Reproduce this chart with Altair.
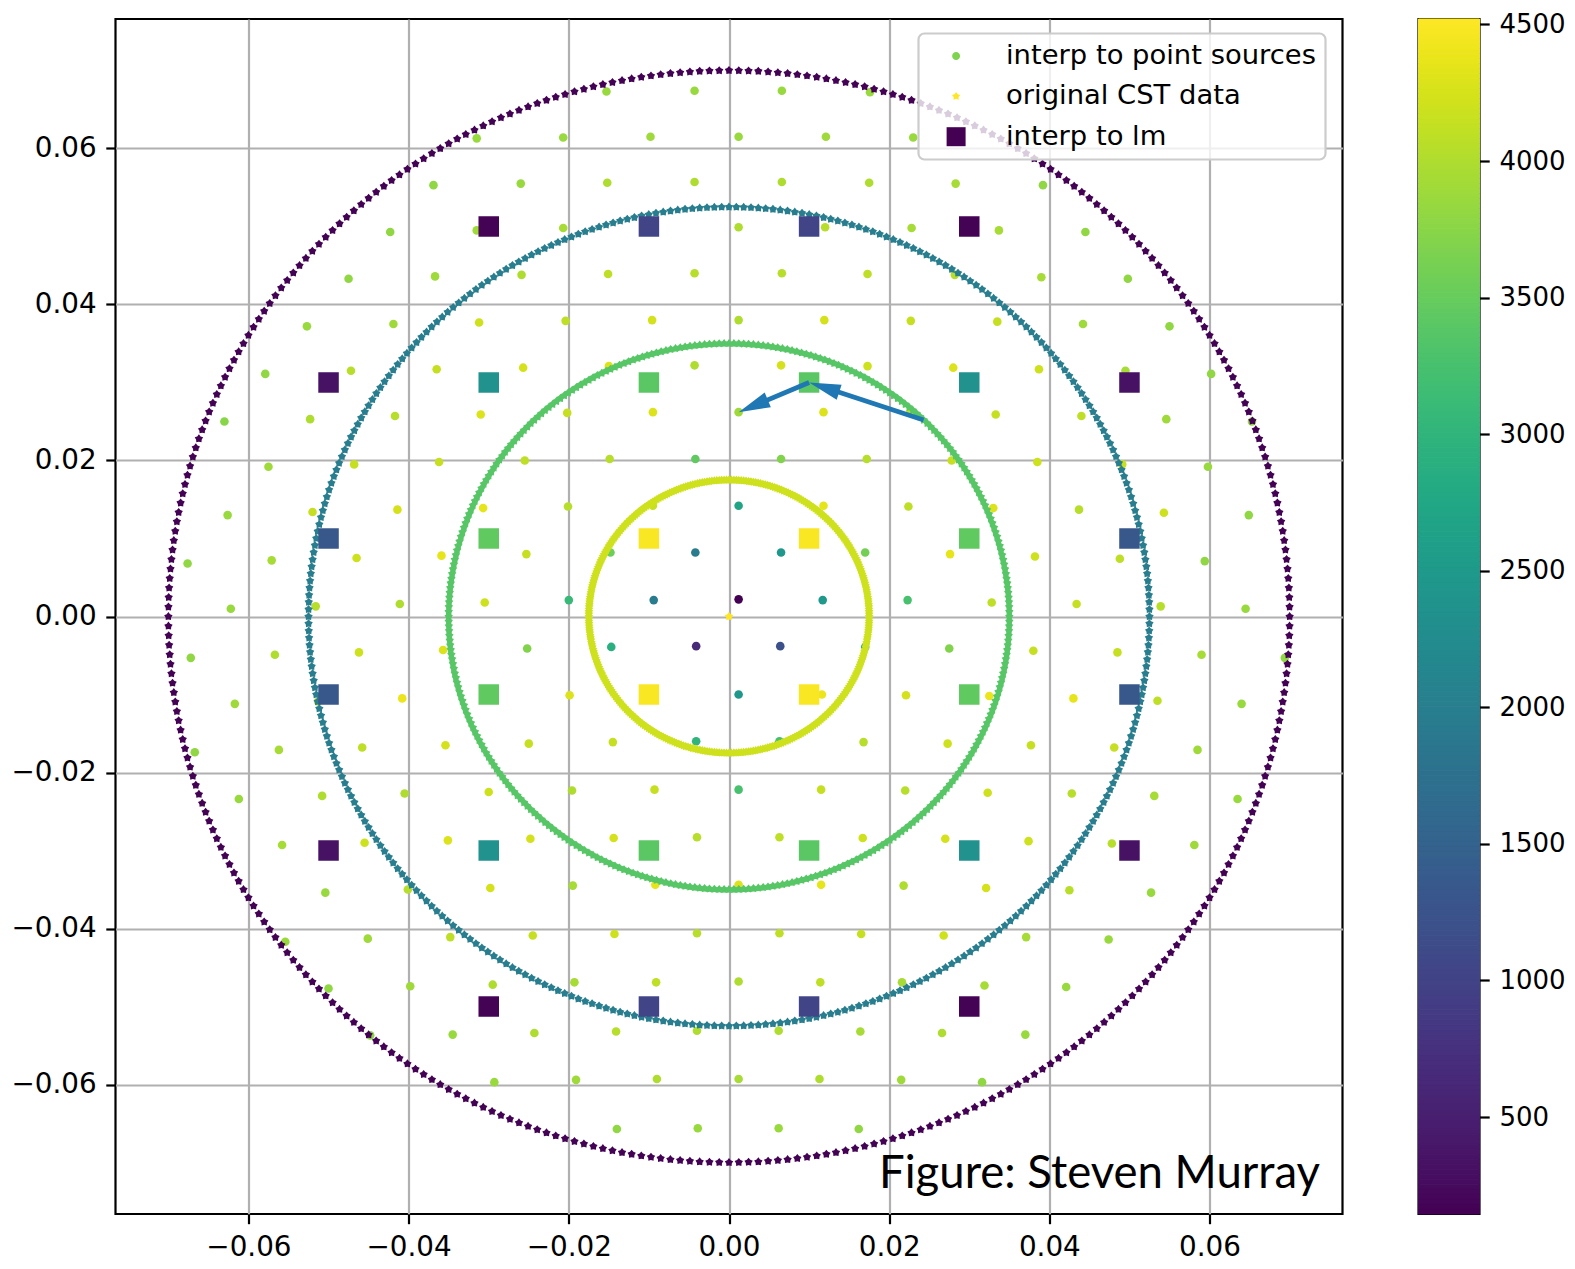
import math
import numpy as np
import pandas as pd
import altair as alt

# ---------------- data ----------------
# interp to point sources: x, y (direction cosines) and value, one line per row
PS_X = [
    -0.0153, -0.0043, 0.0066, 0.0176,
    -0.0315, -0.0207, -0.0098, 0.0012, 0.0121, 0.0230,
    -0.0369, -0.0260, -0.0152, -0.0043, 0.0066, 0.0175, 0.0283, 0.0392,
    -0.0423, -0.0315, -0.0207, -0.0098, 0.0012, 0.0120, 0.0228, 0.0337, 0.0445,
    -0.0475, -0.0367, -0.0259, -0.0151, -0.0043, 0.0066, 0.0173, 0.0282, 0.0390, 0.0498,
    -0.0527, -0.0419, -0.0312, -0.0204, -0.0096, 0.0012, 0.0119, 0.0227, 0.0335, 0.0442, 0.0550,
    -0.0579, -0.0472, -0.0365, -0.0257, -0.0150, -0.0043, 0.0065, 0.0173, 0.0280, 0.0387, 0.0495, 0.0602,
    -0.0630, -0.0523, -0.0417, -0.0310, -0.0202, -0.0095, 0.0012, 0.0118, 0.0226, 0.0333, 0.0440, 0.0546, 0.0653,
    -0.0575, -0.0468, -0.0362, -0.0255, -0.0149, -0.0042, 0.0065, 0.0172, 0.0278, 0.0385, 0.0491, 0.0598,
    -0.0626, -0.0520, -0.0414, -0.0307, -0.0201, -0.0095, 0.0012, 0.0118, 0.0224, 0.0330, 0.0437, 0.0543, 0.0649,
    -0.0676, -0.0571, -0.0465, -0.0359, -0.0253, -0.0148, -0.0042, 0.0065, 0.0170, 0.0276, 0.0382, 0.0488, 0.0594,
    -0.0622, -0.0516, -0.0411, -0.0305, -0.0200, -0.0094, 0.0012, 0.0117, 0.0223, 0.0328, 0.0434, 0.0539, 0.0645,
    -0.0672, -0.0567, -0.0462, -0.0357, -0.0252, -0.0147, -0.0041, 0.0064, 0.0170, 0.0275, 0.0380, 0.0485, 0.0590, 0.0694,
    -0.0617, -0.0513, -0.0408, -0.0304, -0.0199, -0.0093, 0.0012, 0.0116, 0.0221, 0.0325, 0.0430, 0.0535, 0.0640,
    -0.0667, -0.0562, -0.0458, -0.0354, -0.0250, -0.0145, -0.0041, 0.0063, 0.0168, 0.0273, 0.0377, 0.0481, 0.0585,
    -0.0612, -0.0508, -0.0405, -0.0300, -0.0196, -0.0093, 0.0012, 0.0115, 0.0220, 0.0323, 0.0428, 0.0531, 0.0635,
    -0.0558, -0.0455, -0.0351, -0.0248, -0.0144, -0.0040, 0.0063, 0.0167, 0.0270, 0.0374, 0.0478, 0.0581,
    -0.0504, -0.0401, -0.0298, -0.0195, -0.0092, 0.0012, 0.0115, 0.0218, 0.0321, 0.0425, 0.0527,
    -0.0554, -0.0451, -0.0348, -0.0245, -0.0143, -0.0040, 0.0063, 0.0165, 0.0268, 0.0371, 0.0474,
    -0.0500, -0.0398, -0.0295, -0.0193, -0.0091, 0.0012, 0.0114, 0.0216, 0.0319, 0.0421,
    -0.0448, -0.0345, -0.0243, -0.0141, -0.0040, 0.0062, 0.0164, 0.0266, 0.0370,
    -0.0293, -0.0191, -0.0090, 0.0012, 0.0113, 0.0215, 0.0316,
    -0.0140, -0.0039, 0.0062, 0.0162,
]
PS_Y = [
    0.0673, 0.0674, 0.0674, 0.0672,
    0.0613, 0.0614, 0.0615, 0.0615, 0.0615, 0.0614,
    0.0553, 0.0555, 0.0556, 0.0557, 0.0557, 0.0556, 0.0555, 0.0553,
    0.0493, 0.0495, 0.0498, 0.0499, 0.0499, 0.0499, 0.0498, 0.0495, 0.0493,
    0.0433, 0.0436, 0.0438, 0.0439, 0.0440, 0.0440, 0.0439, 0.0438, 0.0435, 0.0433,
    0.0372, 0.0375, 0.0377, 0.0379, 0.0380, 0.0380, 0.0380, 0.0379, 0.0378, 0.0375, 0.0372,
    0.0311, 0.0315, 0.0317, 0.0319, 0.0321, 0.0322, 0.0322, 0.0321, 0.0319, 0.0317, 0.0315, 0.0311,
    0.0250, 0.0253, 0.0257, 0.0259, 0.0261, 0.0262, 0.0262, 0.0262, 0.0261, 0.0259, 0.0257, 0.0253, 0.0250,
    0.0192, 0.0195, 0.0198, 0.0200, 0.0202, 0.0202, 0.0202, 0.0202, 0.0200, 0.0198, 0.0195, 0.0192,
    0.0130, 0.0134, 0.0137, 0.0139, 0.0141, 0.0142, 0.0142, 0.0142, 0.0141, 0.0139, 0.0137, 0.0133, 0.0130,
    0.0068, 0.0072, 0.0075, 0.0078, 0.0080, 0.0082, 0.0082, 0.0082, 0.0082, 0.0080, 0.0077, 0.0074, 0.0071,
    0.0010, 0.0013, 0.0016, 0.0018, 0.0021, 0.0021, 0.0022, 0.0021, 0.0021, 0.0018, 0.0016, 0.0013, 0.0010,
    -0.0053, -0.0049, -0.0046, -0.0043, -0.0041, -0.0039, -0.0038, -0.0038, -0.0039, -0.0041, -0.0044, -0.0046, -0.0049, -0.0053,
    -0.0112, -0.0109, -0.0105, -0.0103, -0.0101, -0.0100, -0.0100, -0.0100, -0.0101, -0.0102, -0.0105, -0.0108, -0.0112,
    -0.0174, -0.0171, -0.0168, -0.0165, -0.0163, -0.0161, -0.0160, -0.0160, -0.0161, -0.0163, -0.0165, -0.0168, -0.0171,
    -0.0234, -0.0230, -0.0227, -0.0225, -0.0223, -0.0222, -0.0222, -0.0222, -0.0223, -0.0226, -0.0227, -0.0230, -0.0234,
    -0.0293, -0.0290, -0.0287, -0.0285, -0.0284, -0.0283, -0.0283, -0.0284, -0.0285, -0.0288, -0.0291, -0.0293,
    -0.0354, -0.0350, -0.0348, -0.0345, -0.0344, -0.0344, -0.0344, -0.0345, -0.0348, -0.0351, -0.0354,
    -0.0417, -0.0413, -0.0411, -0.0409, -0.0407, -0.0406, -0.0406, -0.0407, -0.0409, -0.0411, -0.0414,
    -0.0477, -0.0474, -0.0472, -0.0469, -0.0469, -0.0468, -0.0469, -0.0469, -0.0473, -0.0475,
    -0.0537, -0.0536, -0.0534, -0.0532, -0.0531, -0.0531, -0.0532, -0.0534, -0.0536,
    -0.0597, -0.0594, -0.0593, -0.0593, -0.0593, -0.0594, -0.0597,
    -0.0657, -0.0656, -0.0656, -0.0657,
]
PS_V = [
    3850, 3850, 3850, 3850,
    3850, 3850, 3900, 3850, 3900, 3850,
    3800, 3850, 4000, 4000, 4000, 4000, 3950, 3800,
    3800, 3900, 3950, 3950, 4000, 4050, 3950, 3950, 3800,
    3800, 3900, 4000, 4100, 4050, 4050, 4100, 4050, 3950, 3800,
    3850, 3900, 4200, 4100, 4250, 4000, 4250, 4150, 4150, 3900, 3800,
    3800, 4050, 4150, 4250, 4300, 4000, 4250, 4200, 4300, 4200, 3950, 3800,
    3750, 4000, 4050, 4300, 4150, 4300, 3900, 4300, 4150, 4150, 4100, 3900, 3800,
    3900, 4150, 4150, 4100, 4050, 3450, 3700, 4050, 4150, 4200, 4150, 3850,
    3850, 4150, 4250, 4350, 4050, 4150, 2700, 4350, 4100, 4300, 4050, 4200, 3800,
    3800, 3950, 4200, 4350, 4150, 3550, 1950, 2450, 3600, 4350, 4200, 4100, 3800,
    3850, 4050, 4000, 4200, 3100, 1950, 150, 2500, 3250, 4100, 4150, 4050, 3850,
    3800, 4000, 4200, 4300, 3700, 2900, 650, 1200, 2800, 3700, 4150, 4150, 3950, 3800,
    3900, 4100, 4400, 4300, 4300, 4350, 2450, 4400, 4250, 4400, 4350, 4100, 3850,
    3800, 3950, 4100, 4250, 4150, 4150, 3000, 3200, 4050, 4200, 4150, 4150, 3900,
    3850, 4000, 4000, 4200, 4000, 4150, 3250, 4150, 4050, 4200, 4050, 3950, 3850,
    3950, 4200, 4300, 4250, 4250, 4050, 4100, 4200, 4250, 4200, 4050, 3900,
    3850, 4050, 4250, 3950, 4350, 4300, 4350, 4000, 4250, 4050, 3850,
    3850, 3900, 4100, 4150, 4200, 4050, 4100, 4150, 4200, 3950, 3850,
    3800, 3900, 4000, 3950, 4100, 4000, 4100, 3950, 3950, 3850,
    3750, 3850, 4000, 4050, 4000, 4000, 3950, 4000, 3850,
    3850, 3900, 4000, 3950, 4000, 3900, 3800,
    3800, 3850, 3850, 3800,
]

# interp to lm (squares)
SQ_X = [-0.03, -0.01, 0.01, 0.03,
        -0.05, -0.03, -0.01, 0.01, 0.03, 0.05,
        -0.05, -0.03, -0.01, 0.01, 0.03, 0.05,
        -0.05, -0.03, -0.01, 0.01, 0.03, 0.05,
        -0.05, -0.03, -0.01, 0.01, 0.03, 0.05,
        -0.03, -0.01, 0.01, 0.03]
SQ_Y = [0.05] * 4 + [0.03] * 6 + [0.01] * 6 + [-0.01] * 6 + [-0.03] * 6 + [-0.05] * 4
SQ_V = [170, 1030, 1030, 170,
        330, 2350, 3400, 3400, 2350, 330,
        1340, 3450, 4500, 4500, 3450, 1340,
        1340, 3450, 4500, 4500, 3450, 1340,
        330, 2350, 3400, 3400, 2350, 330,
        170, 1030, 1030, 170]

# original CST data: rings of constant radius, one sample per degree, plus the centre
RING_R = [0.0175, 0.035, 0.0525, 0.07]
RING_V = [4200, 3380, 2000, 160]
RING_N = 360
CENTER_V = 4520

# arrows (tail -> tip)
ARROW_X0 = [0.0243, 0.0100]
ARROW_Y0 = [0.0252, 0.0300]
ARROW_X1 = [0.0100, 0.0012]
ARROW_Y1 = [0.0300, 0.0262]

LEGEND_LABELS = ["interp to point sources", "original CST data", "interp to lm"]
LEGEND_COLORS = ["#7ed34f", "#fde725", "#440154"]

AXIS_TICKS = [-0.06, -0.04, -0.02, 0.0, 0.02, 0.04, 0.06]
CBAR_TICKS = [500, 1000, 1500, 2000, 2500, 3000, 3500, 4000, 4500]
CMIN, CMAX = 145, 4520

ANNOT_TEXT = ["Figure: Steven Murray"]
ANNOT_X = [0.0738]
ANNOT_Y = [-0.0733]

assert len(PS_X) == len(PS_Y) == len(PS_V)
assert len(SQ_X) == len(SQ_Y) == len(SQ_V)

# ---------------- layout / style ----------------
W, H = 1227, 1195
DOM = [-0.0766, 0.0766]
FONT = "DejaVu Sans"
FS = 27.8
ARROW_COLOR = "#1f77b4"


def star_path(r_out, r_in):
    pts = []
    for i in range(10):
        a = -math.pi / 2 + i * math.pi / 5
        r = r_out if i % 2 == 0 else r_in
        pts.append(f"{r * math.cos(a):.4f},{r * math.sin(a):.4f}")
    return "M" + " L".join(pts) + " Z"


def circle_path(r):
    return f"M{r},0 A{r},{r} 0 1,1 {-r},0 A{r},{r} 0 1,1 {r},0 Z"


STAR = star_path(1.0, 0.66)
HEAD = "M0,0 L0.5,2 L-0.5,2 Z"

# ---------------- frames ----------------
df_ps = pd.DataFrame({"x": PS_X, "y": PS_Y, "v": PS_V})
df_sq = pd.DataFrame({"x": SQ_X, "y": SQ_Y, "v": SQ_V})

ang = np.deg2rad(np.arange(RING_N))
ring_rows = [{"x": 0.0, "y": 0.0, "v": CENTER_V}]
for r, v in zip(RING_R, RING_V):
    for a in ang:
        ring_rows.append({"x": r * math.cos(a), "y": r * math.sin(a), "v": v})
df_ring = pd.DataFrame(ring_rows)

kx = W / (DOM[1] - DOM[0])
ky = H / (DOM[1] - DOM[0])
arrow_rows = []
for x0, y0, x1, y1 in zip(ARROW_X0, ARROW_Y0, ARROW_X1, ARROW_Y1):
    dxp = (x1 - x0) * kx
    dyp = (y1 - y0) * ky
    ln = math.hypot(dxp, dyp)
    back = 26.0
    arrow_rows.append({
        "x0": x0, "y0": y0, "x1": x1, "y1": y1,
        "xs": x1 - dxp / ln * back / kx,
        "ys": y1 - dyp / ln * back / ky,
        "ang": math.degrees(math.atan2(dxp, dyp)) % 360,
    })
df_arrow = pd.DataFrame(arrow_rows)

df_leg = pd.DataFrame({"label": LEGEND_LABELS, "x": [np.nan] * 3, "y": [np.nan] * 3})
df_annot = pd.DataFrame({"t": ANNOT_TEXT, "x": ANNOT_X, "y": ANNOT_Y})

edges = np.linspace(CMIN, CMAX, 241)
df_cb = pd.DataFrame({"k": "c", "lo": edges[:-1], "hi": edges[1:],
                      "mid": (edges[:-1] + edges[1:]) / 2})

# ---------------- scales / axes ----------------
xs = alt.Scale(domain=DOM, nice=False, zero=False)
ys = alt.Scale(domain=DOM, nice=False, zero=False)
cs = alt.Scale(scheme="viridis", domain=[CMIN, CMAX])


def main_axis():
    return alt.Axis(values=AXIS_TICKS, format=".2f", grid=True, gridColor="#b0b0b0",
                    gridWidth=2.2, domain=False, tickSize=9.7, tickWidth=2.2,
                    tickColor="black", labelFont=FONT, labelFontSize=FS,
                    labelColor="black", labelPadding=9.7, labelFlush=False, title=None)


X = alt.X("x:Q", scale=xs, axis=main_axis())
Y = alt.Y("y:Q", scale=ys, axis=main_axis())

dots = alt.Chart(df_ps).mark_circle(size=74, opacity=1).encode(
    x=X, y=Y, color=alt.Color("v:Q", scale=cs, legend=None))

rings = alt.Chart(df_ring).mark_point(shape=STAR, filled=True, size=78, opacity=1,
                                      strokeWidth=0).encode(
    x=X, y=Y, color=alt.Color("v:Q", scale=cs, legend=None))

squares = alt.Chart(df_sq).mark_square(size=420, opacity=1).encode(
    x=X, y=Y, color=alt.Color("v:Q", scale=cs, legend=None))

leg = alt.Legend(title=None, orient="none", legendX=803, legendY=14.5, padding=8.7,
                 cornerRadius=6, fillColor="rgba(255,255,255,0.8)", strokeColor="#cccccc",
                 labelFont=FONT, labelFontSize=27.4, labelColor="black", labelLimit=600,
                 labelOffset=36.2, symbolOffset=15.2, rowPadding=11.4, symbolSize=361,
                 symbolStrokeWidth=0, symbolOpacity=1)

legend_layer = alt.Chart(df_leg).mark_point(filled=True, opacity=1, size=361).encode(
    x=X, y=Y,
    color=alt.Color("label:N", scale=alt.Scale(domain=LEGEND_LABELS, range=LEGEND_COLORS),
                    legend=leg),
    shape=alt.Shape("label:N", scale=alt.Scale(
        domain=LEGEND_LABELS,
        range=[circle_path(0.42), star_path(0.46, 0.27), "square"]), legend=leg),
)

shafts = alt.Chart(df_arrow).mark_rule(strokeWidth=4.8, color=ARROW_COLOR).encode(
    x=alt.X("x0:Q", scale=xs), y=alt.Y("y0:Q", scale=ys), x2="xs:Q", y2="ys:Q")

heads = alt.Chart(df_arrow).mark_point(shape=HEAD, filled=True, size=1000, opacity=1,
                                       strokeWidth=0, color=ARROW_COLOR).encode(
    x=alt.X("x1:Q", scale=xs), y=alt.Y("y1:Q", scale=ys),
    angle=alt.Angle("ang:Q", scale=None))

annot = alt.Chart(df_annot).mark_text(align="right", baseline="alphabetic", font="Lato",
                                      fontSize=45.5, color="black").encode(
    x=alt.X("x:Q", scale=xs), y=alt.Y("y:Q", scale=ys), text="t:N")

main = alt.layer(dots, rings, squares, legend_layer, shafts, heads, annot).resolve_scale(
    color="independent", shape="independent").properties(width=W, height=H)

cbar = alt.Chart(df_cb).mark_rect(strokeWidth=1).encode(
    x=alt.X("k:N", axis=None, scale=alt.Scale(paddingInner=0, paddingOuter=0)),
    y=alt.Y("lo:Q", scale=alt.Scale(domain=[CMIN, CMAX], nice=False, zero=False),
            axis=alt.Axis(orient="right", values=CBAR_TICKS, format="d", grid=False,
                          domain=False, tickSize=9.7, tickWidth=2.2, tickColor="black",
                          labelFont=FONT, labelFontSize=26, labelColor="black",
                          labelPadding=9.7, labelFlush=False, title=None)),
    y2="hi:Q",
    color=alt.Color("mid:Q", scale=cs, legend=None),
    stroke=alt.Stroke("mid:Q", scale=cs, legend=None),
).properties(width=61, height=H)

chart = alt.hconcat(main, cbar, spacing=76, bounds="flush").resolve_scale(
    color="independent", stroke="independent"
).properties(
    padding={"left": 1.5, "top": 2, "right": 0, "bottom": 0},
    background="white",
).configure_view(stroke="black", strokeWidth=2.2).configure_legend(strokeWidth=2.2)

chart.save("out.html", embed_options={"renderer": "svg", "actions": False})
